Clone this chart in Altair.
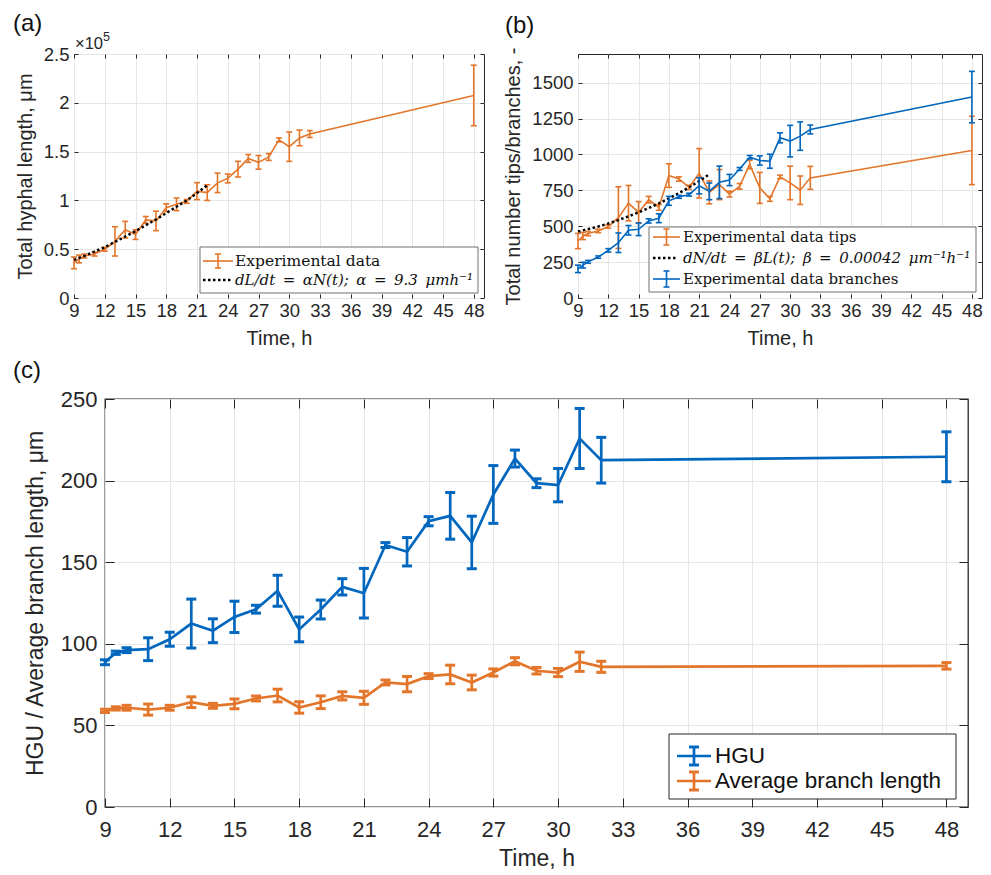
import altair as alt
import pandas as pd

# ---------------- data ----------------
T = [9, 9.5, 10, 11, 12, 13, 14, 15, 16, 17, 18, 19, 20, 21, 22, 23, 24, 25, 26, 27, 28, 29, 30, 31, 32, 48]

# (a) total hyphal length, units of 1e5 um
LEN_E5 = [0.36, 0.40, 0.43, 0.45, 0.50, 0.58, 0.70, 0.65, 0.80, 0.79, 0.925, 0.96, 0.99, 1.095, 1.08,
          1.18, 1.225, 1.32, 1.43, 1.39, 1.445, 1.62, 1.55, 1.64, 1.68, 2.075]
LEN_ERR_E5 = [0.06, 0.04, 0.02, 0.02, 0.02, 0.15, 0.085, 0.05, 0.035, 0.10, 0.04, 0.065, 0.02, 0.087, 0.08,
              0.10, 0.045, 0.08, 0.04, 0.07, 0.035, 0.02, 0.15, 0.08, 0.035, 0.31]
FIT_T = [9, 10, 11, 12, 13, 14, 15, 16, 17, 18, 19, 20, 21, 22]
FIT_LEN_E5 = [0.39, 0.43, 0.475, 0.52, 0.575, 0.63, 0.685, 0.745, 0.805, 0.87, 0.935, 1.0, 1.075, 1.155]

# (b) tips / branches
TIPS = [397, 432, 449, 467, 498, 560, 661, 596, 685, 631, 853, 829, 771, 869, 736,
        790, 724, 778, 930, 767, 691, 844, 802, 751, 837, 1028]
TIPS_ERR = [53, 25, 15, 12, 12, 215, 123, 76, 23, 20, 82, 15, 15, 172, 80,
            105, 20, 20, 30, 108, 17, 12, 117, 99, 80, 238]
BRANCHES = [203, 229, 252, 285, 332, 385, 472, 479, 537, 556, 677, 705, 720, 782, 743,
            806, 822, 899, 981, 958, 953, 1116, 1093, 1128, 1174, 1400]
BRANCHES_ERR = [26, 20, 10, 8, 12, 68, 33, 44, 15, 31, 31, 10, 10, 56, 58,
                113, 39, 10, 12, 32, 49, 35, 110, 99, 31, 179]
FIT_TIPS = [463, 480, 498, 519, 543, 569, 597, 627, 659, 694, 731, 771, 815, 862]

# (c) HGU / average branch length
HGU = [88.7, 94.5, 96.1, 96.7, 102.8, 112.4, 108.0, 116.5, 121.2, 132.5, 108.8, 121.0, 134.9, 131.0, 160.5,
       156.4, 175.1, 178.4, 162.1, 191.5, 213.5, 198.4, 197.2, 225.8, 212.5, 214.6]
HGU_ERR = [1.5, 1.0, 1.5, 7.0, 4.3, 15.0, 7.3, 9.6, 2.4, 9.5, 7.6, 5.8, 5.0, 15.2, 1.5,
           8.7, 2.8, 14.3, 16.1, 17.7, 5.2, 2.7, 10.2, 18.4, 14.0, 15.3]
ABL = [58.9, 60.4, 60.8, 59.7, 60.8, 64.2, 62.0, 63.2, 66.5, 68.3, 61.0, 64.2, 68.1, 66.9, 76.3,
       75.3, 80.2, 81.2, 76.3, 82.4, 89.3, 83.5, 82.4, 89.0, 85.9, 86.5]
ABL_ERR = [1.0, 1.0, 1.5, 3.4, 1.5, 3.3, 1.5, 3.0, 1.5, 3.9, 3.5, 3.9, 2.5, 4.0, 1.5,
           4.7, 1.5, 5.7, 4.5, 2.2, 2.2, 2.0, 2.5, 5.9, 3.4, 2.0]

X_TICKS = [9, 12, 15, 18, 21, 24, 27, 30, 33, 36, 39, 42, 45, 48]
X_DOMAIN = [9, 49]
YA_TICKS = [0, 0.5, 1, 1.5, 2, 2.5]
YB_TICKS = [0, 250, 500, 750, 1000, 1250, 1500]
YC_TICKS = [0, 50, 100, 150, 200, 250]

# ---------------- style ----------------
SANS = "Liberation Sans"
SERIF = "DejaVu Serif"
AX = "#262626"
GRID = "#e6e6e6"
BLUE = "#0066BE"
ORANGE = "#E3762B"
SP = "\u2002"
ONE = pd.DataFrame({"k": [0]})


def sdf(mean, err, times=T):
    return pd.DataFrame({"t": times, "v": mean,
                         "lo": [m - e for m, e in zip(mean, err)],
                         "hi": [m + e for m, e in zip(mean, err)]})


def xscale():
    return alt.Scale(domain=X_DOMAIN, nice=False, zero=False)


def main_axes(tk, fs, tfs, lpx, tpx, lpy, tpy, ytitle, yvals, yfmt):
    xa = alt.Axis(orient="bottom", values=X_TICKS, offset=-tk, tickSize=tk, tickColor=AX, tickWidth=1,
                  domain=False, grid=True, gridColor=GRID, gridWidth=1,
                  labelFont=SANS, labelFontSize=fs, labelColor=AX, labelPadding=lpx,
                  labelFlush=False, labelOverlap=False,
                  title="Time, h", titleFont=SANS, titleFontSize=tfs, titleFontWeight="normal",
                  titleColor=AX, titlePadding=tpx)
    ya = alt.Axis(orient="left", values=yvals, format=yfmt, offset=-tk, tickSize=tk, tickColor=AX, tickWidth=1,
                  domain=False, grid=True, gridColor=GRID, gridWidth=1,
                  labelFont=SANS, labelFontSize=fs, labelColor=AX, labelPadding=lpy,
                  labelFlush=False, labelOverlap=False,
                  title=ytitle, titleFont=SANS, titleFontSize=tfs, titleFontWeight="normal",
                  titleColor=AX, titlePadding=tpy)
    return xa, ya


def frame_axes(tk, yvals):
    xa = alt.Axis(orient="top", values=X_TICKS, offset=-tk, tickSize=tk, tickColor=AX, tickWidth=1,
                  domain=False, grid=False, labels=False, title=None)
    ya = alt.Axis(orient="right", values=yvals, offset=-tk, tickSize=tk, tickColor=AX, tickWidth=1,
                  domain=False, grid=False, labels=False, title=None)
    return xa, ya


def err_series(df, color, ys, lw, capw, capt):
    base = alt.Chart(df)
    x = alt.X("t:Q", scale=xscale(), axis=None)
    line = base.mark_line(color=color, strokeWidth=lw).encode(x=x, y=alt.Y("v:Q", scale=ys, axis=None))
    rule = base.mark_rule(color=color, strokeWidth=lw).encode(
        x=x, y=alt.Y("lo:Q", scale=ys, axis=None), y2="hi:Q")
    cap_lo = base.mark_tick(color=color, orient="horizontal", size=capw, thickness=capt, opacity=1).encode(
        x=x, y=alt.Y("lo:Q", scale=ys, axis=None))
    cap_hi = base.mark_tick(color=color, orient="horizontal", size=capw, thickness=capt, opacity=1).encode(
        x=x, y=alt.Y("hi:Q", scale=ys, axis=None))
    return [line, rule, cap_lo, cap_hi]


def fit_line(df, ys, lw, dash):
    return alt.Chart(df).mark_line(color="black", strokeWidth=lw, strokeDash=dash).encode(
        x=alt.X("t:Q", scale=xscale(), axis=None), y=alt.Y("v:Q", scale=ys, axis=None))


def axes_layer(df, ys, xa, ya):
    return alt.Chart(df).mark_point(opacity=0, size=1).encode(
        x=alt.X("t:Q", scale=xscale(), axis=xa), y=alt.Y("v:Q", scale=ys, axis=ya))


def txt(s, x, y, size, font=SANS, style="normal", baseline="alphabetic", color=AX):
    return alt.Chart(ONE).mark_text(text=s, align="left", baseline=baseline, font=font, fontSize=size,
                                    fontStyle=style, color=color).encode(x=alt.value(x), y=alt.value(y))


def hline(x1, x2, y, color, w, dash=None):
    kw = {"strokeDash": dash} if dash else {}
    return alt.Chart(ONE).mark_rule(color=color, strokeWidth=w, **kw).encode(
        x=alt.value(x1), x2=alt.value(x2), y=alt.value(y))


def vline(x, y1, y2, color, w):
    return alt.Chart(ONE).mark_rule(color=color, strokeWidth=w).encode(
        x=alt.value(x), y=alt.value(y1), y2=alt.value(y2))


def box(x1, y1, x2, y2, stroke, w):
    return alt.Chart(ONE).mark_rect(fill="white", stroke=stroke, strokeWidth=w).encode(
        x=alt.value(x1), x2=alt.value(x2), y=alt.value(y1), y2=alt.value(y2))


def err_symbol(x1, x2, y, half, capw, color, lw, capt):
    xm = (x1 + x2) / 2
    return [hline(x1, x2, y, color, lw), vline(xm, y - half, y + half, color, lw),
            hline(xm - capw / 2, xm + capw / 2, y - half, color, capt),
            hline(xm - capw / 2, xm + capw / 2, y + half, color, capt)]


# ---------------- panel (a) ----------------
WA, HA = 410, 244
ysA = alt.Scale(domain=[0, 2.5], nice=False, zero=True)
dfA = sdf(LEN_E5, LEN_ERR_E5)
fitA = pd.DataFrame({"t": FIT_T, "v": FIT_LEN_E5})
xa, ya = main_axes(4, 18.5, 20, 3, 9, 5, 8, "Total hyphal length, μm", YA_TICKS, "~g")
fxa, fya = frame_axes(4, YA_TICKS)
layersA = [axes_layer(dfA, ysA, xa, ya)]
layersA += err_series(dfA, ORANGE, ysA, 1.6, 6, 1.6)
layersA += [fit_line(fitA, ysA, 2.5, [2.5, 2.5]), axes_layer(dfA, ysA, fxa, fya)]
layersA += [box(126, 193, 404, 239, "#707070", 1)]
layersA += err_symbol(129, 159, 207, 7, 6, ORANGE, 1.6, 1.6)
layersA += [txt("Experimental data", 161, 207, 15.5, SERIF, baseline="middle", color="#111111"),
            hline(129, 157, 226, "black", 2.5, [2.5, 2.5]),
            txt(f"dL/dt{SP}={SP}αN(t);{SP}α{SP}={SP}9.3{SP}μmh⁻¹", 161, 226, 15, SERIF, "italic", "middle", "#111111"),
            txt("(a)", -61, -23, 24, color="#111111"),
            txt("×10", 1, -5, 16.5),
            txt("5", 29, -13, 12.5)]
panelA = alt.layer(*layersA).resolve_axis(x="independent", y="independent").properties(
    width=WA, height=HA, view=alt.ViewBackground(stroke=AX, strokeWidth=1))

# ---------------- panel (b) ----------------
WB, HB = 404, 244
ysB = alt.Scale(domain=[0, 1700], nice=False, zero=True)
dfTips = sdf(TIPS, TIPS_ERR)
dfBr = sdf(BRANCHES, BRANCHES_ERR)
fitB = pd.DataFrame({"t": FIT_T, "v": FIT_TIPS})
xb, yb = main_axes(4, 18.5, 20, 3, 9, 5, 8, "Total number tips/branches, -", YB_TICKS, "d")
fxb, fyb = frame_axes(4, YB_TICKS)
layersB = [axes_layer(dfTips, ysB, xb, yb)]
layersB += err_series(dfTips, ORANGE, ysB, 1.6, 6, 1.6)
layersB += [fit_line(fitB, ysB, 2.5, [2.5, 2.5])]
layersB += err_series(dfBr, BLUE, ysB, 1.6, 6, 1.6)
layersB += [axes_layer(dfTips, ysB, fxb, fyb)]
layersB += [box(71, 173, 398, 238, "#707070", 1)]
layersB += err_symbol(75, 102, 183, 8, 6, ORANGE, 1.6, 1.6)
layersB += [txt("Experimental data tips", 105, 183, 15, SERIF, baseline="middle", color="#111111"),
            hline(75, 100, 204, "black", 2.5, [2.5, 2.5]),
            txt(f"dN/dt{SP}={SP}βL(t);{SP}β{SP}={SP}0.00042{SP}μm⁻¹h⁻¹", 105, 204, 15, SERIF, "italic", "middle",
                "#111111")]
layersB += err_symbol(75, 102, 225, 8, 6, BLUE, 1.6, 1.6)
layersB += [txt("Experimental data branches", 105, 225, 15, SERIF, baseline="middle", color="#111111"),
            txt("(b)", -73, -21, 24, color="#111111")]
panelB = alt.layer(*layersB).resolve_axis(x="independent", y="independent").properties(
    width=WB, height=HB, view=alt.ViewBackground(stroke=AX, strokeWidth=1))

# ---------------- panel (c) ----------------
WC, HC = 863, 408
ysC = alt.Scale(domain=[0, 250], nice=False, zero=True)
dfH = sdf(HGU, HGU_ERR)
dfL = sdf(ABL, ABL_ERR)
xc, yc = main_axes(9, 22, 23, 12, 7, 8, 13, "HGU / Average branch length, μm", YC_TICKS, "d")
fxc, fyc = frame_axes(9, YC_TICKS)
layersC = [axes_layer(dfH, ysC, xc, yc)]
layersC += err_series(dfH, BLUE, ysC, 2.7, 10, 3)
layersC += err_series(dfL, ORANGE, ysC, 2.7, 10, 3)
layersC += [axes_layer(dfH, ysC, fxc, fyc)]
layersC += [box(564, 335, 851, 400, AX, 1)]
layersC += err_symbol(572, 606, 357, 9, 10, BLUE, 2.7, 3)
layersC += [txt("HGU", 610, 357, 22.5, baseline="middle", color="#111111")]
layersC += err_symbol(572, 606, 382, 9, 10, ORANGE, 2.7, 3)
layersC += [txt("Average branch length", 610, 382, 22.5, baseline="middle", color="#111111"),
            txt("(c)", -92, -21, 24, color="#111111")]
panelC = alt.layer(*layersC).resolve_axis(x="independent", y="independent").properties(
    width=WC, height=HC, view=alt.ViewBackground(stroke=AX, strokeWidth=1.3))

# empty spacer that shifts panel (c) to the right of panel (a)
spacer = alt.Chart(ONE).mark_text(text="").encode(x=alt.value(0), y=alt.value(0)).properties(
    width=31, height=10, view=alt.ViewBackground(stroke="transparent"))

top = alt.hconcat(panelA, panelB, spacing=18)
bottom = alt.hconcat(spacer, panelC, spacing=0, bounds="flush")
chart = alt.vconcat(top, bottom, spacing=9).properties(
    padding={"left": 4, "top": 3, "right": 0, "bottom": 0}
).configure(background="white")

chart.save("out.html", embed_options={"renderer": "svg", "actions": False})
